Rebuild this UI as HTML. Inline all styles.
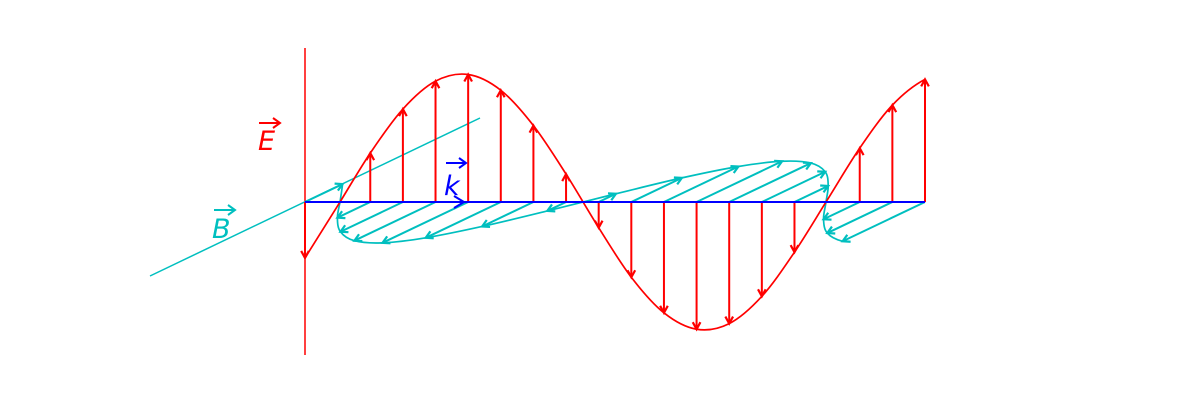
<!DOCTYPE html>
<html><head><meta charset="utf-8"><style>
html,body{margin:0;padding:0;background:#fff;width:1200px;height:400px;overflow:hidden}
svg{display:block}
text{font-family:"DejaVu Sans","Liberation Sans",sans-serif;font-style:oblique}
</style></head><body>
<svg id="chart" width="1200" height="400" viewBox="0 0 1200 400" xmlns="http://www.w3.org/2000/svg">
  <line x1="305" y1="48" x2="305" y2="355" stroke="#ff0000" stroke-width="1.5"/>
  <line x1="150" y1="276" x2="480" y2="118" stroke="#00bfbf" stroke-width="1.5"/>
  <g id="bfield"></g>
  <g id="efield"></g>
  <line x1="305" y1="202" x2="925" y2="202" stroke="#0000ff" stroke-width="2"/>
  <polyline points="454,196 464,202 454,208" fill="none" stroke="#0000ff" stroke-width="2"/>
  <g>
    <text x="258" y="150" font-size="27" fill="#ff0000">E</text>
    <line x1="259" y1="123" x2="279" y2="123" stroke="#ff0000" stroke-width="2"/>
    <polyline points="273,118 280,123 273,128" fill="none" stroke="#ff0000" stroke-width="2"/>
  </g>
  <g>
    <text x="212" y="238" font-size="27" fill="#00bfbf">B</text>
    <line x1="214" y1="210" x2="234" y2="210" stroke="#00bfbf" stroke-width="2"/>
    <polyline points="228,205 235,210 228,215" fill="none" stroke="#00bfbf" stroke-width="2"/>
  </g>
  <g>
    <text x="444" y="195" font-size="27" fill="#0000ff">k</text>
    <line x1="446" y1="163" x2="465" y2="163" stroke="#0000ff" stroke-width="2"/>
    <polyline points="459,158 466,163 459,168" fill="none" stroke="#0000ff" stroke-width="2"/>
  </g>
</svg>
<script>
// normalized field value at each sample position along k
const sampleIndex = [0,1,2,3,4,5,6,7,8,9,10,11,12,13,14,15,16,17,18,19];
const eValues = [-0.437,-0.03,0.382,0.726,0.944,0.996,0.873,0.597,0.218,-0.201,-0.588,-0.866,-0.994,-0.950,-0.737,-0.392,0.014,0.421,0.757,0.958];

const NS = 'http://www.w3.org/2000/svg';
const X0 = 305, X1 = 925, Y0 = 202, EAMP = 128;
const BDX = -86, BDY = 41;
const n = sampleIndex.length;
function xPos(i){ return X0 + (X1 - X0) * i / (n - 1); }
function eTip(i, v){ return [xPos(i), Y0 - EAMP * v]; }
function bTip(i, v){ return [xPos(i) + BDX * v, Y0 + BDY * v]; }

function mk(tag, attrs, parent){
  const el = document.createElementNS(NS, tag);
  for (const k in attrs) el.setAttribute(k, attrs[k]);
  parent.appendChild(el);
  return el;
}
function head(x1,y1,x2,y2,color,parent,len){
  const a = Math.atan2(y2-y1, x2-x1), s = 0.5;
  const p = `${x2-len*Math.cos(a-s)},${y2-len*Math.sin(a-s)} ${x2},${y2} ${x2-len*Math.cos(a+s)},${y2-len*Math.sin(a+s)}`;
  return mk('polyline', {points:p, fill:'none', stroke:color, 'stroke-width':2.2}, parent);
}
function smoothPath(pts){
  const m = pts.length;
  const ext = (a,b,c) => [3*a[0]-3*b[0]+c[0], 3*a[1]-3*b[1]+c[1]];
  const P = [ext(pts[0],pts[1],pts[2])].concat(pts, [ext(pts[m-1],pts[m-2],pts[m-3])]);
  let d = `M${pts[0][0]},${pts[0][1]}`;
  for (let i = 1; i < P.length - 2; i++){
    const p0 = P[i-1], p1 = P[i], p2 = P[i+1], p3 = P[i+2];
    const c1 = [p1[0]+(p2[0]-p0[0])/6, p1[1]+(p2[1]-p0[1])/6];
    const c2 = [p2[0]-(p3[0]-p1[0])/6, p2[1]-(p3[1]-p1[1])/6];
    d += ` C${c1[0]},${c1[1]} ${c2[0]},${c2[1]} ${p2[0]},${p2[1]}`;
  }
  return d;
}

const eg = document.getElementById('efield');
const bg = document.getElementById('bfield');

const ePts = sampleIndex.map((i) => eTip(i, eValues[i]));
const bPts = sampleIndex.map((i) => bTip(i, eValues[i]));

const ec = mk('path', {d:smoothPath(ePts), fill:'none', stroke:'#ff0000', 'stroke-width':1.7}, eg);


const bc = mk('path', {d:smoothPath(bPts), fill:'none', stroke:'#00bfbf', 'stroke-width':1.7}, bg);



sampleIndex.forEach((i) => {
  const v = eValues[i];
  if (Math.abs(v) < 0.05) return;
  const x = xPos(i);
  const [ex, ey] = eTip(i, v);
  const ea = mk('g', {}, eg);
  
  
  mk('line', {x1:x, y1:Y0, x2:ex, y2:ey, stroke:'#ff0000', 'stroke-width':2}, ea);
  head(x, Y0, ex, ey, '#ff0000', ea, 8);
  const [bx, by] = bTip(i, v);
  const ba = mk('g', {}, bg);
  
  
  mk('line', {x1:x, y1:Y0, x2:bx, y2:by, stroke:'#00bfbf', 'stroke-width':2}, ba);
  head(x, Y0, bx, by, '#00bfbf', ba, 8);
});
</script>
</body></html>
